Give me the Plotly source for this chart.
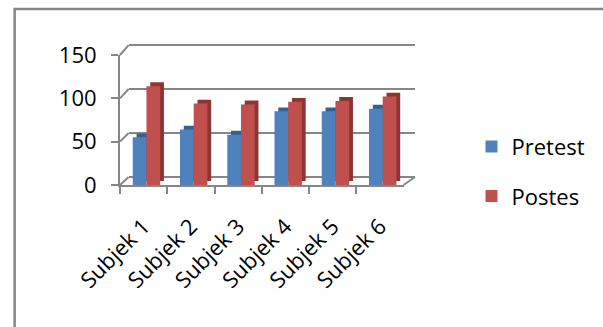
import plotly.graph_objects as go

# Scores per subject
subjects = ["Subjek 1", "Subjek 2", "Subjek 3", "Subjek 4", "Subjek 5", "Subjek 6"]
pretest = [55, 64, 58, 85, 85, 88]
postes = [114, 94, 93, 96, 97, 102]

y_ticks = [0, 50, 100, 150]
Y_MAX = 150

FONT = "Open Sans"
GRAY = "#868686"
BAR_W = 0.29
DEPTH_X = 0.08   # sideways shift of the shaded face (category units)
DEPTH_Y = 4.5    # upward shift of the shaded face (value units)

W, H = 603, 327
ML, MR, MT, MB = 120, 175, 44, 142
PW, PH = W - ML - MR, H - MT - MB

# front plane (bars, labels) and back wall (grid) in paper fractions
FRONT_X = [0, 296 / PW]
FRONT_Y = [0, 130 / PH]
BACK_X = [9 / PW, 1]
BACK_Y = [7 / PH, 1]
GRID_PAD = 1.2   # keeps the 0 and 150 gridlines inside the wall's range

series = [
    ("Pretest", pretest, "#4F81BD", "#36608F", -0.23),
    ("Postes", postes, "#C0504D", "#8E3532", 0.06),
]

fig = go.Figure()
# empty trace so the back-wall subplot gets drawn
fig.add_trace(go.Scatter(x=[None], y=[None], mode="markers",
                         showlegend=False, hoverinfo="skip"))
for name, vals, face, side, off in series:
    # darker, shifted copy gives the column a side and top face
    fig.add_trace(go.Bar(
        x=subjects, y=vals, base=[DEPTH_Y] * len(vals),
        width=BAR_W, offset=off + DEPTH_X,
        marker=dict(color=side, line=dict(width=0)),
        xaxis="x2", yaxis="y2",
        showlegend=False, hoverinfo="skip", legendgroup=name,
    ))
    fig.add_trace(go.Bar(
        x=subjects, y=vals, name=name,
        width=BAR_W, offset=off,
        marker=dict(color=face, line=dict(width=0)),
        xaxis="x2", yaxis="y2",
        legendgroup=name,
    ))

# connectors from the front value axis to the back wall, plus floor corner
def front_y(v):
    return FRONT_Y[0] + (FRONT_Y[1] - FRONT_Y[0]) * v / Y_MAX

def back_y(v):
    lo, hi = -GRID_PAD, Y_MAX + GRID_PAD
    return BACK_Y[0] + (BACK_Y[1] - BACK_Y[0]) * (v - lo) / (hi - lo)

shapes = [
    dict(type="rect", xref="paper", yref="paper",
         x0=-110 / PW, x1=1.7, y0=-1.2, y1=(H - MB - 9) / PH,
         line=dict(color=GRAY, width=2.5), layer="below"),
]
for v in y_ticks:
    shapes.append(dict(type="line", xref="paper", yref="paper",
                       x0=FRONT_X[0], y0=front_y(v), x1=BACK_X[0], y1=back_y(v),
                       line=dict(color=GRAY, width=2), layer="below"))
shapes.append(dict(type="line", xref="paper", yref="paper",
                   x0=FRONT_X[1], y0=FRONT_Y[0], x1=BACK_X[1], y1=back_y(0),
                   line=dict(color=GRAY, width=2), layer="below"))

fig.update_layout(
    width=W, height=H,
    margin=dict(l=ML, r=MR, t=MT, b=MB),
    barmode="overlay",
    paper_bgcolor="white", plot_bgcolor="rgba(0,0,0,0)",
    font=dict(family=FONT, size=22, color="black"),
    showlegend=True,
    legend=dict(
        x=(487 - ML) / PW, xanchor="left", y=(H - MB - 125.6) / PH, yanchor="top",
        font=dict(family=FONT, size=22, color="black"),
        tracegroupgap=18, itemwidth=30,
        bgcolor="rgba(0,0,0,0)",
    ),
    # back wall with its gridlines
    xaxis=dict(domain=BACK_X, range=[0, 1], showgrid=False, showline=False,
               zeroline=False, showticklabels=False, ticks="", fixedrange=True),
    yaxis=dict(domain=BACK_Y, range=[-GRID_PAD, Y_MAX + GRID_PAD], tickvals=y_ticks,
               showgrid=True, gridcolor=GRAY, gridwidth=2,
               showline=False, zeroline=False, showticklabels=False, ticks=""),
    # front plane with the bars and axis labels
    xaxis2=dict(
        domain=FRONT_X, anchor="y2",
        type="category", tickangle=-45, tickson="boundaries",
        ticks="outside", ticklen=7, tickcolor=GRAY, tickwidth=2,
        showline=True, linecolor=GRAY, linewidth=2,
        showgrid=False, tickfont=dict(family=FONT, size=22),
        ticklabelstandoff=18,
    ),
    yaxis2=dict(
        domain=FRONT_Y, anchor="x2",
        range=[0, Y_MAX], tickvals=y_ticks, ticks="outside", ticklen=7,
        tickcolor=GRAY, tickwidth=2,
        showline=True, linecolor=GRAY, linewidth=2,
        showgrid=False, zeroline=False, tickfont=dict(family=FONT, size=22),
        ticklabelstandoff=10,
    ),
    shapes=shapes,
)

fig.write_html("out.html")
